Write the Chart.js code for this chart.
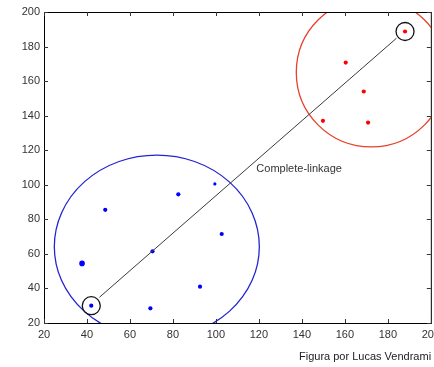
<!DOCTYPE html>
<html>
<head>
<meta charset="utf-8">
<script src="https://cdn.jsdelivr.net/npm/chart.js@4"></script>
<style>
  html, body { margin: 0; padding: 0; background: #fff; overflow: hidden; width: 434px; height: 367px; }
  #wrap { position: relative; width: 434px; height: 367px; }
  canvas { position: absolute; left: 0; top: 0; }
  #credit { position: absolute; left: 299px; top: 350px; font: 11px "Liberation Sans", Arial, sans-serif; color: #222; white-space: nowrap; }
</style>
</head>
<body>
<div id="wrap">
  <canvas id="chart" width="445" height="367"></canvas>
  <div id="credit">Figura por Lucas Vendrami</div>
</div>
<script>
// cluster points
const blueX = [99.5, 82.5, 48.5, 102.7, 70.5, 37.7, 92.6, 42, 69.5];
const blueY = [100.5, 94.5, 85.5, 71.5, 61.5, 54.5, 41, 30, 28.5];
const redX = [188, 160.4, 168.8, 149.8, 170.8];
const redY = [188.7, 170.7, 154, 137, 136];

// the two farthest points (complete-linkage) and the link between them
const farX = [42, 188];
const farY = [30, 188.7];
const linkX = [45.8, 184];
const linkY = [34.9, 184.8];
const linkLabel = 'Complete-linkage';
const labelAt = [118.8, 109.4];

// cluster outlines: center x, center y, radius x, radius y (data units)
const blueRing = [72.5, 64.2, 47.7, 53];
const redRing = [172.3, 165, 34.9, 43.1];

const xTicks = [20, 40, 60, 80, 100, 120, 140, 160, 180, 200];
const yTicks = [20, 40, 60, 80, 100, 120, 140, 160, 180, 200];

const pts = (xs, ys) => xs.map((x, i) => ({ x: x, y: ys[i] }));
const font = { family: '"Liberation Sans", Arial, sans-serif', size: 11 };

const ringsPlugin = {
  id: 'rings',
  beforeDatasetsDraw(chart) {
    const { ctx, chartArea: a, scales: { x, y } } = chart;
    ctx.save();
    ctx.beginPath();
    ctx.rect(a.left, a.top, a.right - a.left, a.bottom - a.top);
    ctx.clip();
    [[blueRing, '#2424d4'], [redRing, '#e8402a']].forEach(([r, col]) => {
      const cx = x.getPixelForValue(r[0]);
      const cy = y.getPixelForValue(r[1]);
      const rx = Math.abs(x.getPixelForValue(r[0] + r[2]) - cx);
      const ry = Math.abs(y.getPixelForValue(r[1] + r[3]) - cy);
      ctx.beginPath();
      ctx.ellipse(cx, cy, rx, ry, 0, 0, Math.PI * 2);
      ctx.strokeStyle = col;
      ctx.lineWidth = 1.3;
      ctx.stroke();
    });
    ctx.restore();
  },
  afterDraw(chart) {
    const { ctx, chartArea: a, scales: { x, y } } = chart;
    ctx.save();
    // box + inward ticks, matlab style
    ctx.strokeStyle = '#000';
    ctx.lineWidth = 1;
    ctx.strokeRect(Math.round(a.left) + 0.5, Math.round(a.top) + 0.5, a.right - a.left, a.bottom - a.top);
    ctx.strokeStyle = '#333';
    ctx.beginPath();
    xTicks.forEach(v => {
      const px = Math.round(x.getPixelForValue(v)) + 0.5;
      ctx.moveTo(px, a.bottom); ctx.lineTo(px, a.bottom - 4);
      ctx.moveTo(px, a.top); ctx.lineTo(px, a.top + 4);
    });
    yTicks.forEach(v => {
      const py = Math.round(y.getPixelForValue(v)) + 0.5;
      ctx.moveTo(a.left, py); ctx.lineTo(a.left + 4, py);
      ctx.moveTo(a.right, py); ctx.lineTo(a.right - 4, py);
    });
    ctx.stroke();
    // label next to the link
    ctx.fillStyle = '#333';
    ctx.font = '11px "Liberation Sans", Arial, sans-serif';
    ctx.textBaseline = 'middle';
    ctx.fillText(linkLabel, x.getPixelForValue(labelAt[0]), y.getPixelForValue(labelAt[1]));
    ctx.restore();
  }
};

new Chart(document.getElementById('chart'), {
  type: 'scatter',
  data: {
    datasets: [
      {
        data: pts(linkX, linkY),
        showLine: true,
        borderColor: '#3a3a3a',
        borderWidth: 1,
        pointRadius: 0
      },
      {
        data: pts(farX, farY),
        pointRadius: 9,
        backgroundColor: 'rgba(0,0,0,0)',
        borderColor: '#111',
        borderWidth: 1.3
      },
      {
        data: pts(blueX, blueY),
        pointRadius: c => c.dataIndex === 5 ? 2.8 : (c.dataIndex === 0 ? 1.6 : 2.1),
        backgroundColor: '#0000ff',
        borderWidth: 0
      },
      {
        data: pts(redX, redY),
        pointRadius: 2.1,
        backgroundColor: '#ff0000',
        borderWidth: 0
      }
    ]
  },
  options: {
    responsive: false,
    animation: false,
    layout: { padding: { top: 12, right: 6, left: 0, bottom: 0 } },
    plugins: { legend: { display: false }, tooltip: { enabled: false } },
    scales: {
      x: {
        type: 'linear',
        min: 20, max: 200,
        afterBuildTicks: s => { s.ticks = xTicks.map(v => ({ value: v })); },
        afterFit: s => { s.height = 44; },
        ticks: { color: '#333', font: font, padding: 5, maxRotation: 0 },
        grid: { drawOnChartArea: false, drawTicks: false },
        border: { display: false }
      },
      y: {
        type: 'linear',
        min: 20, max: 200,
        afterBuildTicks: s => { s.ticks = yTicks.map(v => ({ value: v })); },
        afterFit: s => { s.width = 44; },
        ticks: { color: '#333', font: font, padding: 4 },
        grid: { drawOnChartArea: false, drawTicks: false },
        border: { display: false }
      }
    }
  },
  plugins: [ringsPlugin]
});
</script>
</body>
</html>
